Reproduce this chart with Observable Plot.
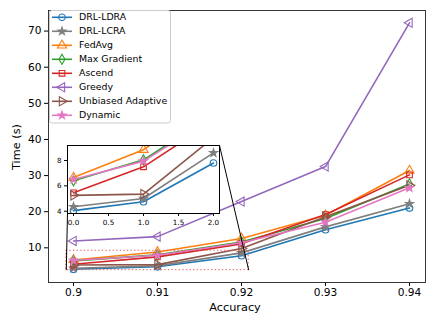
<!DOCTYPE html>
<html><head><meta charset="utf-8">
<script src="https://cdn.jsdelivr.net/npm/d3@7"></script>
<script src="https://cdn.jsdelivr.net/npm/@observablehq/plot@0.6"></script>
<style>
body{margin:0;background:#fff;}
#wrap{position:relative;width:436px;height:327px;font-family:"DejaVu Sans",sans-serif;}
#wrap svg{position:absolute;overflow:visible;}
</style></head><body><div id="wrap"></div>
<script>
// ---- data ----
const accuracy = [0.9, 0.91, 0.92, 0.93, 0.94];
const seriesNames = ["DRL-LDRA","DRL-LCRA","FedAvg","Max Gradient","Ascend","Greedy","Unbiased Adaptive","Dynamic"];
const drlLdra    = [4.05, 4.75, 7.8, 15.0, 21.0];
const drlLcra    = [4.35, 5.0, 8.6, 15.8, 22.2];
const fedAvg     = [6.65, 8.85, 12.6, 19.0, 31.4];
const maxGradient= [6.4, 8.05, 11.6, 18.1, 27.7];
const ascend     = [5.45, 7.5, 11.1, 19.2, 30.2];
const greedy     = [11.9, 13.1, 22.8, 32.5, 72.3];
const unbiased   = [5.25, 5.35, 9.8, 18.6, 27.3];
const dynamic    = [6.5, 7.95, 11.4, 17.1, 26.6];
const seriesValues = [drlLdra, drlLcra, fedAvg, maxGradient, ascend, greedy, unbiased, dynamic];
const xTicks = [0.9, 0.91, 0.92, 0.93, 0.94];
const yTicks = [10, 20, 30, 40, 50, 60, 70];
const insetXTicks = [0, 0.5, 1, 1.5, 2];
const insetYTicks = [4, 6, 8];
const xLabel = "Accuracy", yLabel = "Time (s)";

// ---- styles ----
const colors = ["#1f77b4","#7f7f7f","#ff7f0e","#2ca02c","#d62728","#9467bd","#8c564b","#e377c2"];
const markers = [
  {symbol:"circle", fill:false, rotate:0, r:3.3},
  {symbol:"star", fill:true, rotate:0, r:2.5},
  {symbol:"triangle", fill:false, rotate:0, r:3.4},
  {symbol:"diamond", fill:false, rotate:0, r:3.1},
  {symbol:"square", fill:false, rotate:0, r:3.2},
  {symbol:"triangle", fill:false, rotate:-90, r:3.4},
  {symbol:"triangle", fill:false, rotate:90, r:3.4},
  {symbol:"star", fill:true, rotate:0, r:2.5}
];
const d3sym = {circle:d3.symbolCircle, star:d3.symbolStar, triangle:d3.symbolTriangle, diamond:d3.symbolDiamond, square:d3.symbolSquare};

const rows = [];
seriesNames.forEach((s,i)=>seriesValues[i].forEach((v,j)=>rows.push({series:s, si:i, acc:accuracy[j], idx:j, time:v})));

// ---- layout ----
const W=436, H=327, mL=48, mR=11, mT=10, mB=45;
const xDom=[0.897024, 0.941905], yDom=[0.4, 75.7];
const xs = d3.scaleLinear(xDom,[mL, W-mR]);
const ys = d3.scaleLinear(yDom,[H-mB, mT]);
const insetXDom=[-0.086, 2.086], insetYDom=[3.82, 9.18];
const insetPx = {left:67, top:145, right:219, bottom:213};
const iML=18, iMR=2, iMT=2, iMB=16;

// indicator rectangle in main data coords (derived from inset domains)
const box = {x1: accuracy[0] + insetXDom[0]*(accuracy[1]-accuracy[0]), x2: accuracy[0] + insetXDom[1]*(accuracy[1]-accuracy[0]), y1: insetYDom[0], y2: insetYDom[1]};
const connectors = [
  {xa: xs.invert(insetPx.left), ya: ys.invert(insetPx.bottom), xb: box.x1, yb: box.y1},
  {xa: xs.invert(insetPx.right), ya: ys.invert(insetPx.top), xb: box.x2, yb: box.y1}
];

function seriesMarks(data, xKey, extra={}) {
  const out = [];
  seriesNames.forEach((s,i)=>{
    const d = data.filter(r=>r.si===i);
    const m = markers[i];
    out.push(Plot.line(d,{x:xKey, y:"time", stroke:colors[i], strokeWidth:1.6, ...extra}));
    out.push(Plot.dot(d,{x:xKey, y:"time", symbol:m.symbol, r:m.r, rotate:m.rotate, stroke:colors[i], strokeWidth:1.1, fill: m.fill? colors[i] : "none", ...extra}));
  });
  return out;
}

const main = Plot.plot({
  width:W, height:H, marginLeft:mL, marginRight:mR, marginTop:mT, marginBottom:mB,
  style:{fontFamily:"DejaVu Sans", fontSize:"10.6px", background:"transparent", color:"#000", overflow:"visible"},
  x:{domain:xDom, ticks:xTicks, tickFormat:d=>String(Math.round(d*100)/100), tickSize:4, tickPadding:2, label:null},
  y:{domain:yDom, ticks:yTicks, tickSize:4, tickPadding:3, label:null},
  marks:[
    ...seriesMarks(rows, "acc"),
    Plot.rect([box],{x1:"x1", x2:"x2", y1:"y1", y2:"y2", fill:"none", stroke:"#e8585a", strokeWidth:1, strokeDasharray:"1.3,2.3"}),
    Plot.link(connectors,{x1:"xa", y1:"ya", x2:"xb", y2:"yb", stroke:"#000", strokeWidth:1}),
    Plot.frame({stroke:"#222", strokeWidth:0.9})
  ]
});
main.style.left="0px"; main.style.top="0px";
document.getElementById("wrap").appendChild(main);

// ---- inset ----
const insetRows = rows.filter(r=>r.idx<=2);
const inset = Plot.plot({
  width:(insetPx.right-insetPx.left)+iML+iMR, height:(insetPx.bottom-insetPx.top)+iMT+iMB,
  marginLeft:iML, marginRight:iMR, marginTop:iMT, marginBottom:iMB,
  style:{fontFamily:"DejaVu Sans", fontSize:"7.2px", background:"transparent", color:"#000", overflow:"visible"},
  x:{domain:insetXDom, ticks:insetXTicks, tickFormat:d=>d.toFixed(1), tickSize:3, tickPadding:3, label:null},
  y:{domain:insetYDom, ticks:insetYTicks, tickFormat:d=>String(d), tickSize:3, tickPadding:3, label:null},
  marks:[
    Plot.frame({fill:"white"}),
    ...seriesMarks(insetRows, "idx", {clip:true}),
    Plot.frame({stroke:"#000", strokeWidth:1})
  ]
});
inset.style.left=(insetPx.left-iML)+"px"; inset.style.top=(insetPx.top-iMT)+"px";
document.getElementById("wrap").appendChild(inset);

// ---- axis labels & legend ----
const ov = d3.select("#wrap").append("svg").attr("width",W).attr("height",H).style("left","0px").style("top","0px")
  .attr("font-family","DejaVu Sans");
ov.append("text").attr("x",235).attr("y",308).attr("text-anchor","middle").attr("dominant-baseline","middle")
  .attr("font-size","11.3px").text(xLabel);
ov.append("text").attr("transform","translate(17,147) rotate(-90)").attr("text-anchor","middle").attr("dominant-baseline","middle")
  .attr("font-size","11.3px").text(yLabel);

const lg = ov.append("g");
lg.append("rect").attr("x",49.5).attr("y",10.5).attr("width",121).attr("height",112.5).attr("rx",2.5)
  .attr("fill","white").attr("fill-opacity",0.8).attr("stroke","#cccccc").attr("stroke-width",1);
seriesNames.forEach((s,i)=>{
  const y = 17.3 + i*14.0;
  const m = markers[i];
  lg.append("line").attr("x1",52).attr("x2",72).attr("y1",y).attr("y2",y).attr("stroke",colors[i]).attr("stroke-width",1.6);
  lg.append("path").attr("d", d3.symbol(d3sym[m.symbol], m.r*m.r*Math.PI)())
    .attr("transform",`translate(62,${y}) rotate(${m.rotate})`)
    .attr("fill", m.fill? colors[i] : "none").attr("stroke",colors[i]).attr("stroke-width",1.1);
  lg.append("text").attr("x",79).attr("y",y).attr("dominant-baseline","middle").attr("font-size","9.4px").text(s);
});
</script></body></html>
